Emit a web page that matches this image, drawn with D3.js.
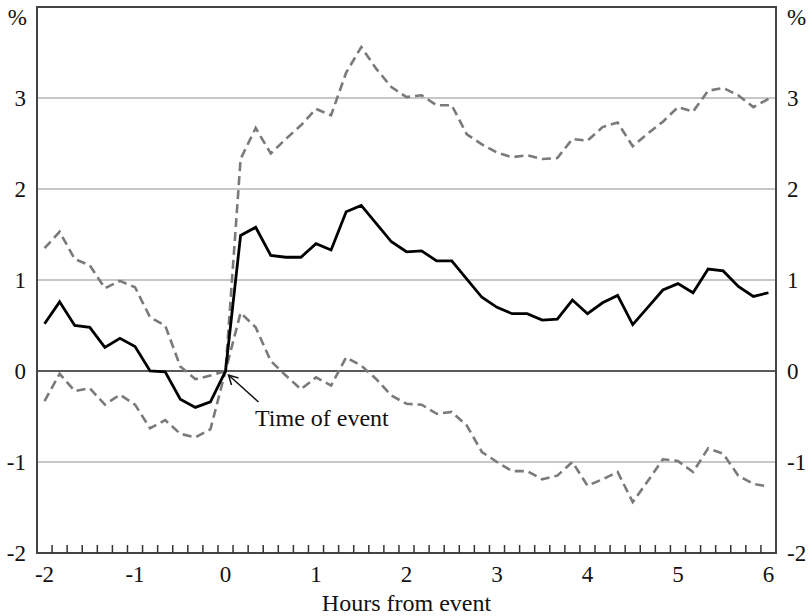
<!DOCTYPE html>
<html>
<head>
<meta charset="utf-8">
<script src="https://cdn.jsdelivr.net/npm/d3@7"></script>
<style>
	body { margin: 0; background: #fff; }
	text { font-family: "Liberation Serif", "Times New Roman", serif; fill: #111; }
</style>
</head>
<body>
<div id="chart"></div>
<script>
// minutes from event, one point every 10 minutes
let minutes = [-120, -110, -100, -90, -80, -70, -60, -50, -40, -30, -20, -10, 0,
	10, 20, 30, 40, 50, 60, 70, 80, 90, 100, 110, 120, 130, 140, 150, 160, 170, 180,
	190, 200, 210, 220, 230, 240, 250, 260, 270, 280, 290, 300, 310, 320, 330, 340, 350, 360];

// average response (%)
let mean = [0.52, 0.76, 0.50, 0.48, 0.26, 0.36, 0.27, 0.00, -0.01, -0.31, -0.40, -0.34, 0.00,
	1.49, 1.58, 1.27, 1.25, 1.25, 1.40, 1.33, 1.75, 1.82, 1.62, 1.42, 1.31, 1.32, 1.21, 1.21,
	1.01, 0.81, 0.70, 0.63, 0.63, 0.56, 0.57, 0.78, 0.63, 0.75, 0.83, 0.51, 0.70, 0.89, 0.96,
	0.86, 1.12, 1.10, 0.93, 0.82, 0.86];

// upper band (%)
let upper = [1.35, 1.53, 1.23, 1.16, 0.91, 0.99, 0.92, 0.59, 0.50, 0.05, -0.09, -0.05, 0.00,
	2.33, 2.67, 2.39, 2.55, 2.70, 2.88, 2.81, 3.28, 3.56, 3.32, 3.12, 3.01, 3.03, 2.92, 2.92,
	2.60, 2.49, 2.40, 2.35, 2.37, 2.33, 2.34, 2.55, 2.53, 2.68, 2.73, 2.47, 2.61, 2.74, 2.90,
	2.85, 3.08, 3.11, 3.03, 2.90, 2.99];

// lower band (%)
let lower = [-0.33, -0.03, -0.22, -0.19, -0.37, -0.26, -0.37, -0.63, -0.54, -0.69, -0.73, -0.64, 0.00,
	0.64, 0.48, 0.11, -0.05, -0.20, -0.07, -0.16, 0.15, 0.06, -0.09, -0.27, -0.36, -0.37, -0.47, -0.45,
	-0.60, -0.89, -1.00, -1.10, -1.10, -1.19, -1.15, -1.00, -1.26, -1.19, -1.11, -1.44, -1.21, -0.97, -0.99,
	-1.11, -0.85, -0.91, -1.15, -1.24, -1.27];

let hourLabels = [-2, -1, 0, 1, 2, 3, 4, 5, 6];
let yLabels = [-2, -1, 0, 1, 2, 3];
let gridValues = [-1, 1, 2, 3];

let width = 812,
	height = 616,
	padLeft = 37,
	padRight = 776,
	padTop = 7,
	padBottom = 553;

let svg = d3.select('#chart').append('svg')
	.attr('width', width)
	.attr('height', height)

let x = d3.scaleLinear()
	.domain([-125, 365])
	.range([padLeft, padRight]);

let y = d3.scaleLinear()
	.domain([-2, 4])
	.range([padBottom, padTop]);

// gridlines
svg.selectAll('.grid')
	.data(gridValues)
	.enter().append('line').classed('grid', true)
	.attr('x1', padLeft).attr('x2', padRight)
	.attr('y1', d => y(d)).attr('y2', d => y(d))
	.attr('stroke', '#b4b4b4')
	.attr('stroke-width', 1.5)

svg.append('line')
	.attr('x1', padLeft).attr('x2', padRight)
	.attr('y1', y(0)).attr('y2', y(0))
	.attr('stroke', '#5a5a5a')
	.attr('stroke-width', 2.2)

// lines
let line = d3.line()
	.x((d, i) => x(minutes[i]))
	.y(d => y(d));

[upper, lower].forEach(function (s) {
	svg.append('path')
		.datum(s)
		.attr('d', line)
		.attr('fill', 'none')
		.attr('stroke', '#7a7a7a')
		.attr('stroke-width', 2.6)
		.attr('stroke-dasharray', '9,5')
})

svg.append('path')
	.datum(mean)
	.attr('d', line)
	.attr('fill', 'none')
	.attr('stroke', '#000')
	.attr('stroke-width', 2.8)

// frame
svg.append('rect')
	.attr('x', padLeft).attr('y', padTop)
	.attr('width', padRight - padLeft).attr('height', padBottom - padTop)
	.attr('fill', 'none')
	.attr('stroke', '#444')
	.attr('stroke-width', 2)

// ticks between the 10 minute categories
let tickPos = d3.pairs(minutes).map(p => (p[0] + p[1]) / 2);
svg.selectAll('.tick')
	.data(tickPos)
	.enter().append('line').classed('tick', true)
	.attr('x1', d => x(d)).attr('x2', d => x(d))
	.attr('y1', padBottom).attr('y2', padBottom - 8)
	.attr('stroke', '#333')
	.attr('stroke-width', 1.5)

// x labels
svg.selectAll('.xlab')
	.data(hourLabels)
	.enter().append('text').classed('xlab', true)
	.attr('x', d => x(d * 60))
	.attr('y', 582)
	.attr('text-anchor', 'middle')
	.style('font-size', '23px')
	.text(d => d)

svg.append('text')
	.attr('x', x(120))
	.attr('y', 611)
	.attr('text-anchor', 'middle')
	.style('font-size', '24px')
	.text('Hours from event')

// y labels, both sides
svg.selectAll('.ylabL')
	.data(yLabels)
	.enter().append('text').classed('ylabL', true)
	.attr('x', 26)
	.attr('y', d => y(d) + 8)
	.attr('text-anchor', 'end')
	.style('font-size', '23px')
	.text(d => d)

svg.selectAll('.ylabR')
	.data(yLabels)
	.enter().append('text').classed('ylabR', true)
	.attr('x', 787)
	.attr('y', d => y(d) + 8)
	.attr('text-anchor', 'start')
	.style('font-size', '23px')
	.text(d => d)

svg.append('text').attr('x', 27).attr('y', 25).attr('text-anchor', 'end').style('font-size', '23px').text('%')
svg.append('text').attr('x', 787).attr('y', 25).attr('text-anchor', 'start').style('font-size', '23px').text('%')

// annotation
let tipX = x(0) + 3, tipY = y(0) + 4;
svg.append('line')
	.attr('x1', tipX + 30).attr('y1', tipY + 27)
	.attr('x2', tipX).attr('y2', tipY)
	.attr('stroke', '#111')
	.attr('stroke-width', 1.5)

svg.append('path')
	.attr('d', 'M' + (tipX + 3) + ',' + (tipY + 10) + 'L' + tipX + ',' + tipY + 'L' + (tipX + 10) + ',' + (tipY + 3))
	.attr('fill', 'none')
	.attr('stroke', '#111')
	.attr('stroke-width', 1.5)

svg.append('text')
	.attr('x', 255)
	.attr('y', 426)
	.style('font-size', '24px')
	.text('Time of event')
</script>
</body>
</html>
